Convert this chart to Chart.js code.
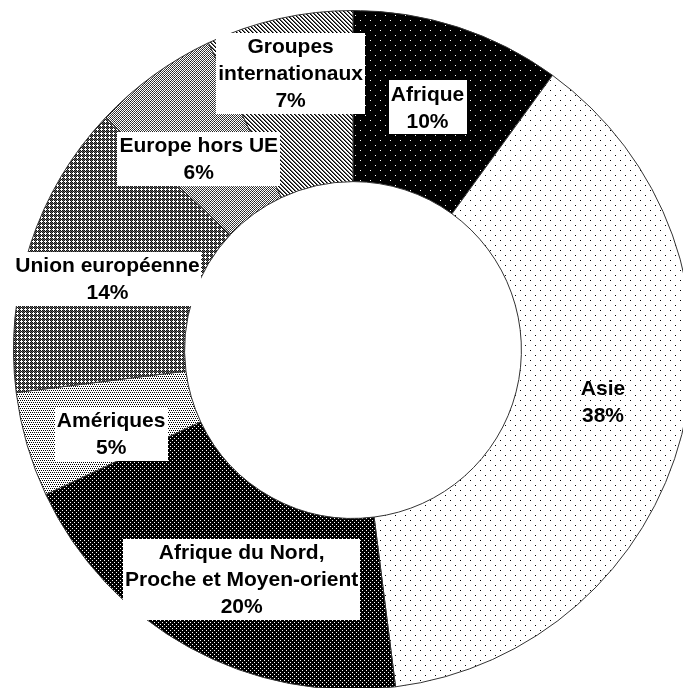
<!DOCTYPE html>
<html>
<head>
<meta charset="utf-8">
<script src="https://cdn.jsdelivr.net/npm/chart.js@4/dist/chart.umd.min.js"></script>
<style>
    html, body { margin: 0; padding: 0; background: #fff; overflow: hidden; }
    #wrap { position: relative; width: 683px; height: 688px; overflow: hidden; }
    #ring { position: absolute; left: 0; top: 0; }
</style>
</head>
<body>
<div id="wrap"><canvas id="ring" width="706" height="700"></canvas></div>
<script>
// Categories (multi-line labels) and shares in %
const categories = [
    ['Afrique'],
    ['Asie'],
    ['Afrique du Nord,', 'Proche et Moyen-orient'],
    ['Amériques'],
    ['Union européenne'],
    ['Europe hors UE'],
    ['Groupes', 'internationaux']
];
const shares = [10, 38, 20, 5, 14, 6, 7];

// Label nudges from the arc centre (px) and whether a white box sits behind the text
const labelNudge = [[-4, -1], [4, -11], [11, 7], [2, 13], [-4, 7], [-5, 14], [-7, -29]];
const labelBox = [true, false, true, true, true, true, true];

/**
 * Build a small repeating fill from a pixel map
 * rows: strings, '.' = bg, 'X' = fg, 'g' = mid grey
 */
function makePattern(rows, bg, fg, mid) {
    const h = rows.length, w = rows[0].length;
    const c = document.createElement('canvas');
    c.width = w; c.height = h;
    const g = c.getContext('2d');
    g.fillStyle = bg;
    g.fillRect(0, 0, w, h);
    for (let y = 0; y < h; y++) {
        for (let x = 0; x < w; x++) {
            const ch = rows[y][x];
            if (ch === 'X') { g.fillStyle = fg; g.fillRect(x, y, 1, 1); }
            else if (ch === 'g') { g.fillStyle = mid || '#888'; g.fillRect(x, y, 1, 1); }
        }
    }
    return g.createPattern(c, 'repeat');
}

const sparse = [
    'X.........',
    '..........',
    '..........',
    '..........',
    '..........',
    '.....X....',
    '..........',
    '..........',
    '..........',
    '..........'
];
const dense = [
    'X...',
    '....',
    '..X.',
    '....'
];
const fine = [
    'X.X.',
    '....',
    '.X.X',
    '....'
];

const fills = [
    makePattern(sparse, '#000', '#fff'),                                    // Afrique
    makePattern(sparse, '#fff', '#000'),                                    // Asie
    makePattern(dense, '#000', '#fff'),                                     // Afrique du Nord
    makePattern(fine, '#fff', '#000'),                                      // Amériques
    makePattern(['.X.g', 'XXX.', '.X.g', 'g.g.'], '#111', '#fff', '#666'),  // Union européenne
    makePattern(['.g.g', 'g.X.', '.g.g', 'X.g.'], '#fff', '#111', '#444'),  // Europe hors UE
    makePattern(['Xg..', '.Xg.', '..Xg', 'g..X'], '#fff', '#000', '#666')   // Groupes internationaux
];

const FONT = 'bold 21px "Liberation Sans", Arial, sans-serif';
const LINE = 27;

const labelPlugin = {
    id: 'sliceLabels',
    afterDatasetsDraw(chart) {
        const ctx = chart.ctx;
        const arcs = chart.getDatasetMeta(0).data;
        ctx.save();
        ctx.font = FONT;
        ctx.textAlign = 'center';
        ctx.textBaseline = 'middle';
        arcs.forEach((arc, i) => {
            const p = arc.tooltipPosition();
            const cx = p.x + labelNudge[i][0];
            const cy = p.y + labelNudge[i][1];
            const lines = categories[i].concat([shares[i] + '%']);
            const w = Math.max(...lines.map(l => ctx.measureText(l).width));
            const h = lines.length * LINE;
            if (labelBox[i]) {
                ctx.fillStyle = '#fff';
                ctx.fillRect(Math.round(cx - w / 2 - 2), Math.round(cy - h / 2), Math.round(w + 4), h);
            }
            ctx.fillStyle = '#000';
            lines.forEach((l, k) => {
                ctx.fillText(l, cx, cy - h / 2 + LINE / 2 + k * LINE + 1);
            });
        });
        ctx.restore();
    }
};

new Chart(document.getElementById('ring'), {
    type: 'doughnut',
    data: {
        labels: categories,
        datasets: [{
            data: shares,
            backgroundColor: fills,
            borderColor: '#333',
            borderWidth: 1,
            hoverOffset: 0
        }]
    },
    options: {
        responsive: false,
        maintainAspectRatio: false,
        animation: false,
        cutout: '49.6%',
        layout: {
            padding: { left: 13, right: 13, top: 10, bottom: 10 }
        },
        plugins: {
            legend: { display: false },
            tooltip: { enabled: false }
        }
    },
    plugins: [labelPlugin]
});
</script>
</body>
</html>
